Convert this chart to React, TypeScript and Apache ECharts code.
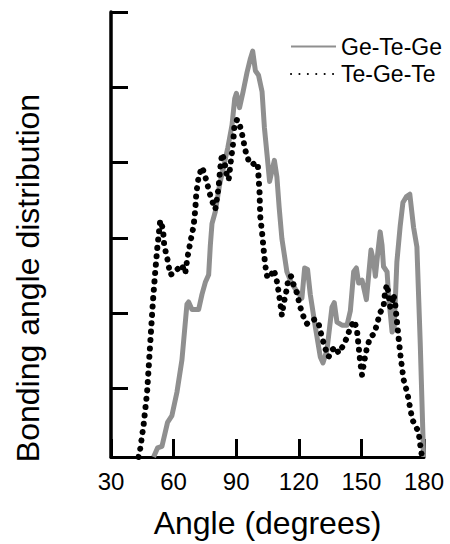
import React, { useEffect, useRef } from "react";
import * as echarts from "echarts";

const xTicks = [30, 60, 90, 120, 150, 180];
const yTicks = [1, 2, 3, 4, 5, 6];

const seriesNames = ["Ge-Te-Ge", "Te-Ge-Te"];

const geTeGe: [number, number][] = [
  [50.4, 0.09], [52.3, 0.21], [54.4, 0.23], [57.1, 0.55], [59.2, 0.64], [61.6, 0.95],
  [64.0, 1.38], [66.4, 2.12], [67.2, 2.15], [68.8, 2.05], [72.0, 2.05], [73.6, 2.25],
  [75.2, 2.41], [76.8, 2.51], [77.6, 2.9], [78.4, 3.19], [80.0, 3.35], [82.0, 3.7],
  [84.0, 3.95], [86.0, 4.2], [88.0, 4.5], [89.3, 4.85], [90.1, 4.92], [91.6, 4.73],
  [93.3, 4.94], [95.2, 5.2], [96.8, 5.38], [97.9, 5.48], [99.2, 5.22], [100.7, 5.16],
  [102.4, 4.94], [103.5, 4.47], [104.8, 4.1], [106.0, 3.75], [107.2, 3.9], [108.3, 4.03],
  [109.5, 3.81], [110.6, 3.4], [111.9, 2.99], [114.3, 2.55], [116.5, 2.4], [119.1, 2.29],
  [121.5, 2.2], [122.8, 2.6], [124.2, 2.58], [125.5, 2.25], [127.9, 1.82], [130.3, 1.42],
  [131.6, 1.34], [133.5, 1.51], [135.9, 2.08], [137.0, 2.14], [138.3, 1.88], [140.7, 1.84],
  [143.1, 1.84], [144.7, 2.03], [146.3, 2.55], [147.6, 2.6], [148.7, 2.4], [150.3, 2.44],
  [152.4, 2.18], [153.5, 2.51], [154.6, 2.84], [155.9, 2.68], [156.7, 2.49], [158.0, 2.84],
  [159.0, 3.08], [159.9, 2.9], [160.6, 2.62], [162.3, 2.55], [163.0, 2.25], [164.7, 1.75],
  [165.7, 1.8], [167.0, 2.68], [168.6, 3.16], [169.9, 3.47], [171.6, 3.55], [173.2, 3.58],
  [175.0, 3.14], [176.6, 2.88], [178.2, 1.6], [179.8, 0.09],
];

const teGeTe: [number, number][] = [
  [43.2, 0.09], [44, 0.2], [45.6, 0.51], [47.3, 0.95], [48.8, 1.6], [50.1, 2.16],
  [51.2, 2.55], [52.3, 2.9], [53.6, 3.23], [54.9, 3.12], [55.5, 2.9], [57.1, 2.71],
  [58.4, 2.51], [60, 2.53], [62.4, 2.6], [64, 2.64], [65.6, 2.53], [66.7, 2.75],
  [68, 2.94], [69.6, 3.16], [70.4, 3.38], [70.9, 3.6], [72, 3.81], [73.6, 3.94],
  [74.7, 3.86], [76, 3.73], [77.9, 3.53], [80, 3.38], [80.8, 3.53], [81.6, 3.68],
  [82.4, 3.94], [83.2, 4.12], [84.3, 4.03], [85.3, 3.86], [86.4, 3.77], [87.5, 4.03],
  [88.5, 4.25], [89.1, 4.47], [90.4, 4.57], [91.6, 4.51], [92.8, 4.38], [94.4, 4.16],
  [95.9, 4.03], [97.6, 3.97], [99.2, 4.0], [100.3, 3.99], [100.7, 3.81], [101.2, 3.6],
  [101.5, 3.29], [102.4, 3.07], [103.1, 2.86], [103.9, 2.64], [104.8, 2.49], [106.3, 2.47],
  [107.9, 2.58], [109.2, 2.47], [110.3, 2.29], [111.1, 2.14], [111.9, 1.97], [112.7, 2.12],
  [114, 2.29], [115.1, 2.47], [116.3, 2.49], [117.5, 2.38], [119.1, 2.27], [120.7, 2.08],
  [122.3, 1.95], [123.9, 1.86], [125.5, 1.9], [127.9, 1.92], [129.5, 1.86], [131.1, 1.68],
  [132.7, 1.53], [134.3, 1.42], [135.9, 1.51], [137.5, 1.55], [139.1, 1.47], [141.5, 1.58],
  [143.1, 1.68], [144.7, 1.81], [146.6, 1.9], [147.9, 1.77], [148.7, 1.55], [149.5, 1.34],
  [150.3, 1.18], [151.5, 1.38], [152.7, 1.55], [154.3, 1.68], [156.2, 1.73], [157.5, 1.86],
  [159, 2.01], [160.6, 2.08], [161.4, 2.29], [162.3, 2.38], [163, 2.25], [163.8, 2.08],
  [164.7, 2.12], [165.4, 2.25], [166.2, 2.12], [167, 1.9], [167.8, 1.68], [168.6, 1.47],
  [169.4, 1.29], [170.2, 1.12], [171.5, 0.99], [172.6, 0.86], [173.4, 0.73], [174.5, 0.58],
  [175.8, 0.51], [177.4, 0.42], [178.2, 0.25], [179, 0.1],
];

const FONT = '"Liberation Sans", Arial, Helvetica, sans-serif';

export default function App() {
  const ref = useRef<HTMLDivElement>(null);
  useEffect(() => {
    if (!ref.current) return;
    const chart = echarts.init(ref.current, undefined, { renderer: "svg" });
    chart.setOption({
      animation: false,
      backgroundColor: "#ffffff",
      grid: { left: 111, right: 26, top: 12, bottom: 78, containLabel: false },
      legend: {
        orient: "vertical",
        left: 290,
        top: 35,
        padding: 0,
        itemWidth: 45,
        itemHeight: 14,
        itemGap: 4.5,
        data: seriesNames,
        itemStyle: { opacity: 0 },
        textStyle: { fontSize: 23, lineHeight: 23, color: "#000", fontFamily: FONT },
      },
      xAxis: {
        type: "value",
        min: xTicks[0],
        max: xTicks[xTicks.length - 1],
        interval: 30,
        splitLine: { show: false },
        axisLine: { show: true, onZero: false, lineStyle: { color: "#000", width: 3 } },
        axisTick: { show: true, inside: true, length: 18, lineStyle: { color: "#000", width: 3 } },
        axisLabel: { show: true, margin: 12, fontSize: 24, color: "#000", fontFamily: FONT },
        name: "Angle (degrees)",
        nameLocation: "middle",
        nameGap: 50,
        nameTextStyle: { fontSize: 32, color: "#000", fontFamily: FONT },
      },
      yAxis: {
        type: "value",
        min: 0.09,
        max: 6,
        splitLine: { show: false },
        axisLine: { show: true, onZero: false, lineStyle: { color: "#000", width: 3.5 } },
        axisTick: {
          show: true,
          inside: true,
          length: 17,
          customValues: yTicks,
          lineStyle: { color: "#000", width: 3 },
        },
        axisLabel: { show: false },
      },
      graphic: [
        {
          type: "text",
          x: 28,
          y: 278,
          rotation: Math.PI / 2,
          style: {
            text: "Bonding angle distribution",
            font: `32px ${FONT}`,
            fill: "#000",
            textAlign: "center",
            textVerticalAlign: "middle",
          },
        },
      ],
      series: [
        {
          name: seriesNames[0],
          type: "line",
          data: geTeGe,
          showSymbol: false,
          symbol: "none",
          lineStyle: { color: "#8f8f8f", width: 5, join: "round" },
          itemStyle: { color: "#8f8f8f" },
        },
        {
          name: seriesNames[1],
          type: "line",
          data: teGeTe,
          showSymbol: false,
          symbol: "none",
          lineStyle: { color: "#000", width: 6, type: [0.1, 8.3], cap: "round", join: "round" },
          itemStyle: { color: "#000" },
        },
      ],
    });
    return () => chart.dispose();
  }, []);
  return (
    <div
      ref={ref}
      style={{ position: "fixed", left: 0, top: 0, width: 450, height: 544, background: "#fff" }}
    />
  );
}
